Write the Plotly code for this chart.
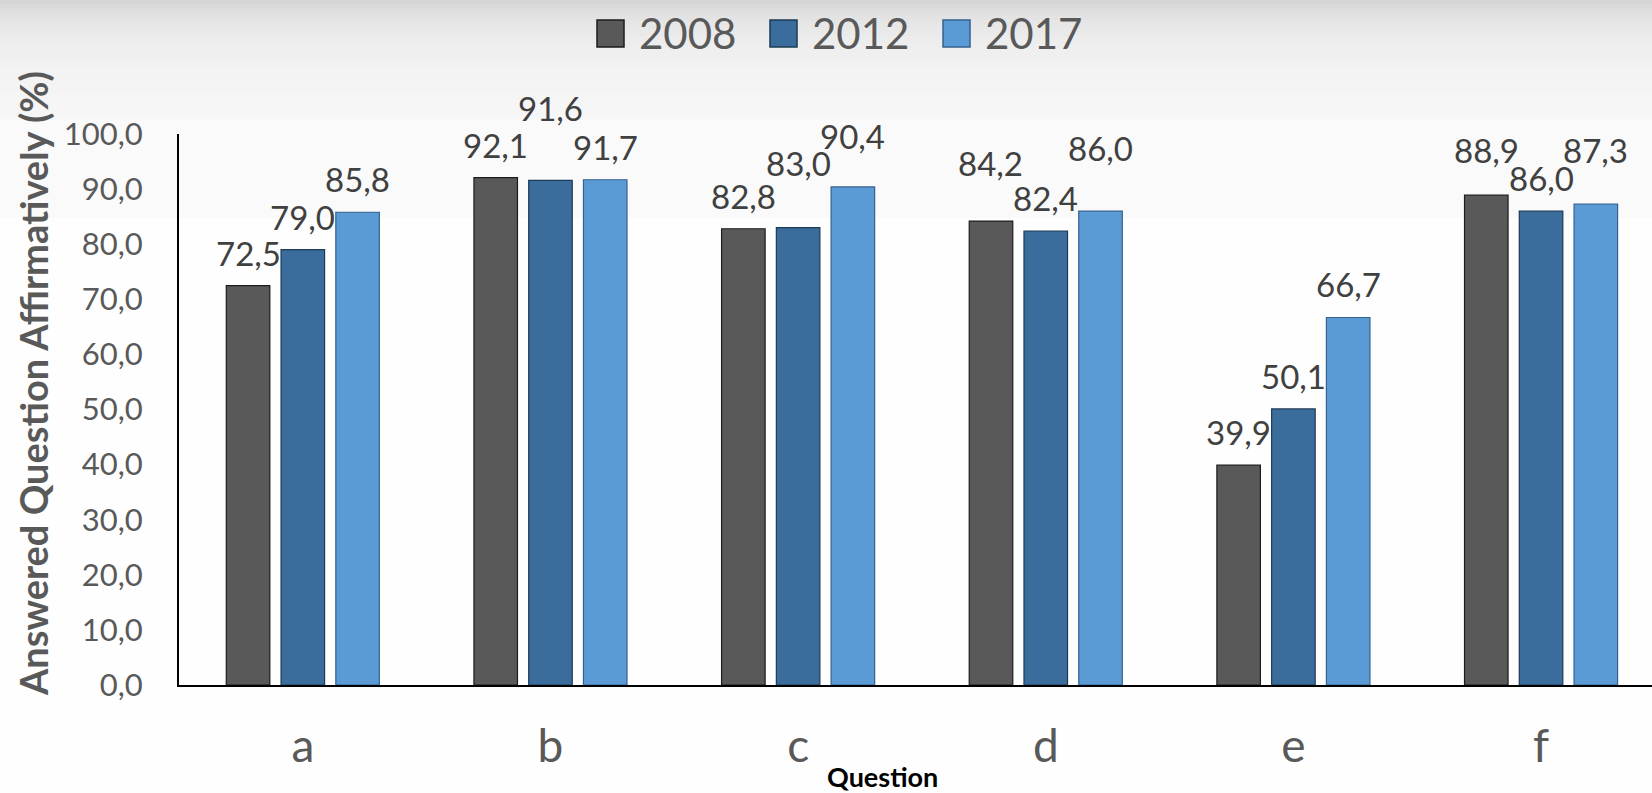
import plotly.graph_objects as go

# Survey results: share answering each question affirmatively (%)
questions = ["a", "b", "c", "d", "e", "f"]
years = ["2008", "2012", "2017"]
v2008 = [72.5, 92.1, 82.8, 84.2, 39.9, 88.9]
v2012 = [79.0, 91.6, 83.0, 82.4, 50.1, 86.0]
v2017 = [85.8, 91.7, 90.4, 86.0, 66.7, 87.3]
y_ticks = [0, 10, 20, 30, 40, 50, 60, 70, 80, 90, 100]

series = [v2008, v2012, v2017]
fills = ["#595959", "#3a6d9c", "#5b9bd5"]
outlines = ["#1c1c1c", "#1d3a56", "#34618e"]

# extra lift (px) for value labels that would otherwise collide
label_lift = [
    [0, 0, 0, 25, 0, 12],
    [0, 39, 32, 0, 0, 0],
    [0, 0, 18, 30, 0, 21],
]

W, H = 1652, 793
ML, MR, MT, MB = 179, 0, 134, 108
X_RANGE = [-0.5, 5.448]
BARGAP, GROUPGAP = 0.3366, 0.205
FONT = "Lato"

plot_w = W - ML - MR
plot_h = H - MT - MB
cat_px = plot_w / (X_RANGE[1] - X_RANGE[0])
slot_px = cat_px * (1 - BARGAP) / len(series)


def fmt(v):
    return f"{v:.1f}".replace(".", ",")


def py(ypx):
    """pixel row -> paper y"""
    return (H - MB - ypx) / plot_h


def px(xpx):
    return (xpx - ML) / plot_w


fig = go.Figure()
for name, vals, fc, lc in zip(years, series, fills, outlines):
    fig.add_trace(go.Bar(
        x=questions, y=vals, name=name,
        marker=dict(color=fc, line=dict(color=lc, width=1.2)),
        showlegend=False, hoverinfo="x+y+name",
    ))

annotations = []
for i, vals in enumerate(series):
    for k, v in enumerate(vals):
        annotations.append(dict(
            x=questions[k], y=v, xref="x", yref="y",
            text=fmt(v), showarrow=False,
            xanchor="center", yanchor="middle",
            xshift=(i - 1) * slot_px, yshift=33 + label_lift[i][k],
            font=dict(family=FONT, size=33, color="#404040"),
        ))

# axis titles
annotations.append(dict(
    x=px(33), y=py(384), xref="paper", yref="paper",
    text="<b>Answered Question Affirmatively (%)</b>", textangle=-90,
    showarrow=False, xanchor="center", yanchor="middle",
    font=dict(family=FONT, size=38, color="#595959"),
))
annotations.append(dict(
    x=px(882), y=py(776), xref="paper", yref="paper",
    text="<b>Question</b>", showarrow=False,
    xanchor="center", yanchor="middle",
    font=dict(family=FONT, size=27, color="#000000"),
))

shapes = []
# soft grey fade across the top of the canvas
top_stops = [(0, 214), (8, 221), (20, 230), (40, 237), (70, 243), (120, 247)]
step = 4
for y0 in range(0, 120, step):
    for (ya, ga), (yb, gb) in zip(top_stops[:-1], top_stops[1:]):
        if ya <= y0 < yb:
            g = round(ga + (gb - ga) * (y0 - ya) / (yb - ya))
            break
    shapes.append(dict(
        type="rect", xref="paper", yref="paper", layer="below",
        x0=px(0), x1=px(W), y0=py(y0 + step), y1=py(y0),
        fillcolor=f"rgb({g},{g},{g})", line=dict(width=0),
    ))
shapes.append(dict(
    type="rect", xref="paper", yref="paper", layer="below",
    x0=px(0), x1=px(W), y0=py(218), y1=py(120),
    fillcolor="rgb(250,250,250)", line=dict(width=0),
))

# legend drawn as swatches + labels
legend_items = [(597, 637), (770, 810), (943, 983)]
for (sx, tx), name, fc, lc in zip(legend_items, years, fills, outlines):
    shapes.append(dict(
        type="rect", xref="paper", yref="paper",
        x0=px(sx), x1=px(sx + 27), y0=py(47), y1=py(20),
        fillcolor=fc, line=dict(color=lc, width=1.5),
    ))
    annotations.append(dict(
        x=px(tx), y=py(33), xref="paper", yref="paper",
        text=name, showarrow=False, xanchor="left", yanchor="middle",
        font=dict(family=FONT, size=42, color="#595959"),
    ))

fig.update_layout(
    width=W, height=H,
    margin=dict(l=ML, r=MR, t=MT, b=MB, pad=0),
    paper_bgcolor="#fefefe", plot_bgcolor="rgba(0,0,0,0)",
    barmode="group", bargap=BARGAP, bargroupgap=GROUPGAP,
    separators=",.",
    showlegend=False,
    annotations=annotations, shapes=shapes,
    xaxis=dict(
        range=X_RANGE, showline=True, linecolor="#000000", linewidth=2,
        showgrid=False, zeroline=False, ticks="",
        tickfont=dict(family=FONT, size=46, color="#595959"),
        ticklabelstandoff=20,
    ),
    yaxis=dict(
        range=[0, 100], tickvals=y_ticks, tickformat=".1f",
        showline=True, linecolor="#000000", linewidth=2,
        showgrid=False, zeroline=False, ticks="",
        tickfont=dict(family=FONT, size=31, color="#595959"),
        ticklabelstandoff=28,
    ),
)

fig.write_html("out.html")
